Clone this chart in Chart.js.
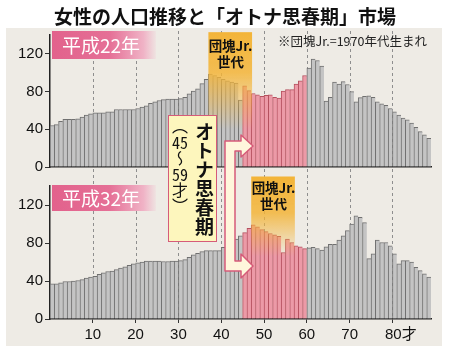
<!DOCTYPE html>
<html>
<head>
<meta charset="utf-8">
<script src="https://cdn.jsdelivr.net/npm/chart.js@4.4.0/dist/chart.umd.min.js"></script>
<style>
  body { margin: 0; background: #fff; }
  #wrap { position: relative; width: 450px; height: 352px; overflow: hidden; font-family: 'Noto Sans CJK JP', sans-serif; }
  #panel { position: absolute; left: 6px; top: 28px; width: 436px; height: 318px; background: #eeebe5; }
  canvas { position: absolute; left: 0; }
  #c1 { top: 24px; }
  #c2 { top: 175px; }
  .title { position: absolute; left: 0; top: 4px; width: 450px; text-align: center; font-weight: bold; font-size: 19px; line-height: 24px; color: #111; }
  .note { position: absolute; left: 278px; top: 33px; font-size: 12.5px; line-height: 16px; color: #222; white-space: nowrap; }
  .year { position: absolute; left: 52px; width: 104px; color: #fff; font-size: 19px; padding-left: 10px; box-sizing: border-box;
          background: linear-gradient(90deg, #e2628c 0%, #e56f96 55%, #f0b3c6 88%, rgba(242,200,212,0.2) 100%); }
  .band { position: absolute; width: 45px; text-align: center; font-weight: bold; font-size: 13.5px; line-height: 16px; color: #111; }
  .box { position: absolute; left: 168px; top: 115px; width: 49px; height: 127px; box-sizing: border-box;
         background: #fdf6bd; border: 1.5px solid #d65b79; }
  .big { position: absolute; left: 25px; top: 6px; writing-mode: vertical-rl; text-orientation: upright; font-weight: bold; font-size: 19px; line-height: 20px; color: #111; }
  .small { position: absolute; left: 3px; top: 2px; writing-mode: vertical-rl; font-size: 16px; line-height: 16px; color: #111; }
  .tcy { text-combine-upright: all; }
  svg { position: absolute; left: 0; top: 0; }
</style>
</head>
<body>
<div id="wrap">
  <div id="panel"></div>
  <canvas id="c1" width="450" height="154"></canvas>
  <canvas id="c2" width="450" height="177"></canvas>
  <div class="title">女性の人口推移と「オトナ思春期」市場</div>
  <div class="note">※団塊Jr.=1970年代生まれ</div>
  <div class="year" style="top:31px;height:28px;line-height:28px;">平成22年</div>
  <div class="year" style="top:185px;height:26px;line-height:26px;">平成32年</div>
  <div class="band" style="left:208px;top:37px;">団塊Jr.<br>世代</div>
  <div class="band" style="left:251px;top:179px;">団塊Jr.<br>世代</div>
  <svg width="450" height="352">
    <path d="M225 141 L241 141 L241 135 L253 146 L241 157 L241 151 L235 151 L235 261 L241 261 L241 254 L253 266 L241 278 L241 271 L225 271 Z"
          fill="#fff6dc" stroke="#d65b79" stroke-width="1.5" stroke-linejoin="round"/>
  </svg>
  <div class="box">
    <div class="small">（<span class="tcy">45</span>～<span class="tcy">59</span>才）</div>
    <div class="big">オトナ思春期</div>
  </div>
</div>
<script>
// 年齢 (1歳刻み)
const ages = [0,1,2,3,4,5,6,7,8,9,10,11,12,13,14,15,16,17,18,19,20,21,22,23,24,25,26,27,28,29,
  30,31,32,33,34,35,36,37,38,39,40,41,42,43,44,45,46,47,48,49,50,51,52,53,54,55,56,57,58,59,
  60,61,62,63,64,65,66,67,68,69,70,71,72,73,74,75,76,77,78,79,80,81,82,83,84,85,86,87,88];

// 平成22年 女性人口 (万人)
const pop2010 = [44,45,48.5,50.5,50.5,50.5,51,53,55,56.5,
  57.5,57.5,57.5,58.5,58.5,61,61,61,61,61,
  62,63.5,65,67.5,69,70.5,71.5,72,72,72,
  72.5,74,77.5,80.5,83,88.5,93,98.5,97,95,
  93,91.5,90,89,71,86,81,78,76.5,75,
  76,76.5,74,73,80.5,82,82,88,91.5,97,
  105,114.5,113,107,70,74,90,88,90.5,87.5,
  80,69,73.5,75,75.5,74,69,67,65.5,62,
  58.5,55,52,50,46.5,42,37.5,34,30.5];

// 平成32年 女性人口 (万人)
const pop2020 = [37,37,38,39.5,39.5,40,40.5,41.5,43,44,
  45,47,48.5,50,50.5,52,53.5,55,56.5,58,
  59,60,61,61,61,61,60.5,60.5,61,61,
  61.5,62.5,65,67.5,69,71,72,72,72,72,
  75.5,77,80,84,87.5,91,95.5,99,97,94,
  92,90,88.5,87,70,84,80.5,77,76,74,
  75,75.5,74,72.5,76,78.5,78.5,83,87.5,93,
  100,108.5,107,101.5,63.5,68.5,83,80.5,80.5,77,
  68.5,58,61.5,61.5,60,54.5,51,47.5,44];

const pinkAges = [45, 59];        // オトナ思春期
const band2010 = [37, 47.2];      // 団塊Jr.
const band2020 = [47, 57.2];

const xTicks = [10,20,30,40,50,60,70,80];
const xTickLabels = ['10','20','30','40','50','60','70','    80才'];
const yTicks = [0,20,40,60,80,100,120,140];
const yTickLabels = ['0','','40','','80','万人 ','120',''];

const numFont = "'Liberation Sans', 'Noto Sans CJK JP', sans-serif";

var dashPlugin = {
  id: 'ageDashes',
  beforeDatasetsDraw: function(chart, args, opts) {
    var ctx = chart.ctx;
    var area = chart.chartArea;
    var xs = chart.scales.x;
    var y0 = opts.bottomChart ? 0 : area.top - 4;
    var y1 = opts.bottomChart ? area.bottom : chart.height;
    ctx.save();
    ctx.strokeStyle = '#8e8e8e';
    ctx.lineWidth = 1;
    ctx.setLineDash([3, 3]);
    xTicks.forEach(function(v) {
      var px = Math.round(xs.getPixelForValue(v)) + 0.5;
      ctx.beginPath();
      ctx.moveTo(px, y0);
      ctx.lineTo(px, y1);
      ctx.stroke();
    });
    ctx.restore();
  }
};

var bandPlugin = {
  id: 'dankaiBand',
  afterDatasetsDraw: function(chart, args, opts) {
    var ctx = chart.ctx;
    var xs = chart.scales.x, ys = chart.scales.y;
    var x0 = xs.getPixelForValue(opts.range[0]);
    var x1 = xs.getPixelForValue(opts.range[1]);
    var yTop = ys.getPixelForValue(opts.top);
    var ySolid = ys.getPixelForValue(opts.solid);
    var yEnd = ys.getPixelForValue(opts.fade);
    var g = ctx.createLinearGradient(0, yTop, 0, yEnd);
    g.addColorStop(0, 'rgba(243,180,56,1)');
    g.addColorStop((ySolid - yTop) / (yEnd - yTop), 'rgba(243,180,56,0.85)');
    g.addColorStop(1, 'rgba(243,180,56,0)');
    ctx.save();
    ctx.fillStyle = g;
    ctx.fillRect(x0, yTop, x1 - x0, yEnd - yTop);
    ctx.restore();
  }
};

function isPink(age) {
  return age >= pinkAges[0] && age <= pinkAges[1];
}

function makeChart(id, values, band, bottomChart) {
  var points = values.map(function(v, i) { return { x: ages[i] + 0.5, y: v }; });
  return new Chart(document.getElementById(id), {
    type: 'bar',
    data: {
      datasets: [{
        data: points,
        backgroundColor: function(c) { return isPink(ages[c.dataIndex]) ? '#ec9aa7' : '#c4c4c4'; },
        borderColor: function(c) { return isPink(ages[c.dataIndex]) ? '#b5515f' : '#707070'; },
        borderWidth: { top: 1, left: 1, right: 0, bottom: 0 },
        borderSkipped: false,
        barPercentage: 1,
        categoryPercentage: 1
      }]
    },
    options: {
      responsive: false,
      animation: false,
      devicePixelRatio: 1,
      layout: { padding: { top: 10, bottom: bottomChart ? 6 : 10, left: 0, right: 19 } },
      plugins: {
        legend: { display: false },
        tooltip: { enabled: false },
        ageDashes: { bottomChart: bottomChart },
        dankaiBand: band
      },
      scales: {
        x: {
          type: 'linear',
          min: 0,
          max: 89,
          offset: false,
          afterBuildTicks: function(s) { s.ticks = xTicks.map(function(v) { return { value: v }; }); },
          afterFit: function(s) { s.height = bottomChart ? 27 : 0; },
          grid: { drawOnChartArea: false, drawTicks: bottomChart, tickLength: 4, tickColor: '#333', tickWidth: 1, offset: false },
          border: { display: true, color: '#222', width: 1.5 },
          ticks: {
            display: bottomChart,
            autoSkip: false,
            maxRotation: 0,
            padding: 3,
            color: '#111',
            font: { family: numFont, size: 15 },
            callback: function(v, i) { return xTickLabels[i]; }
          }
        },
        y: {
          min: 0,
          max: 140,
          afterBuildTicks: function(s) { s.ticks = yTicks.map(function(v) { return { value: v }; }); },
          afterFit: function(s) { s.width = 50; },
          grid: { drawOnChartArea: false, drawTicks: true, tickLength: 5, tickColor: '#333', tickWidth: 1 },
          border: { display: true, color: '#222', width: 1.5 },
          ticks: {
            padding: 2,
            color: '#111',
            font: function(c) {
              return (c.tick && c.tick.value === 100) ? { family: numFont, size: 11 } : { family: numFont, size: 15 };
            },
            callback: function(v, i) { return yTickLabels[i]; }
          }
        }
      }
    },
    plugins: [dashPlugin, bandPlugin]
  });
}

makeChart('c1', pop2010, { range: band2010, top: 143, solid: 100, fade: 40 }, false);
makeChart('c2', pop2020, { range: band2020, top: 150, solid: 112, fade: 66 }, true);
</script>
</body>
</html>
